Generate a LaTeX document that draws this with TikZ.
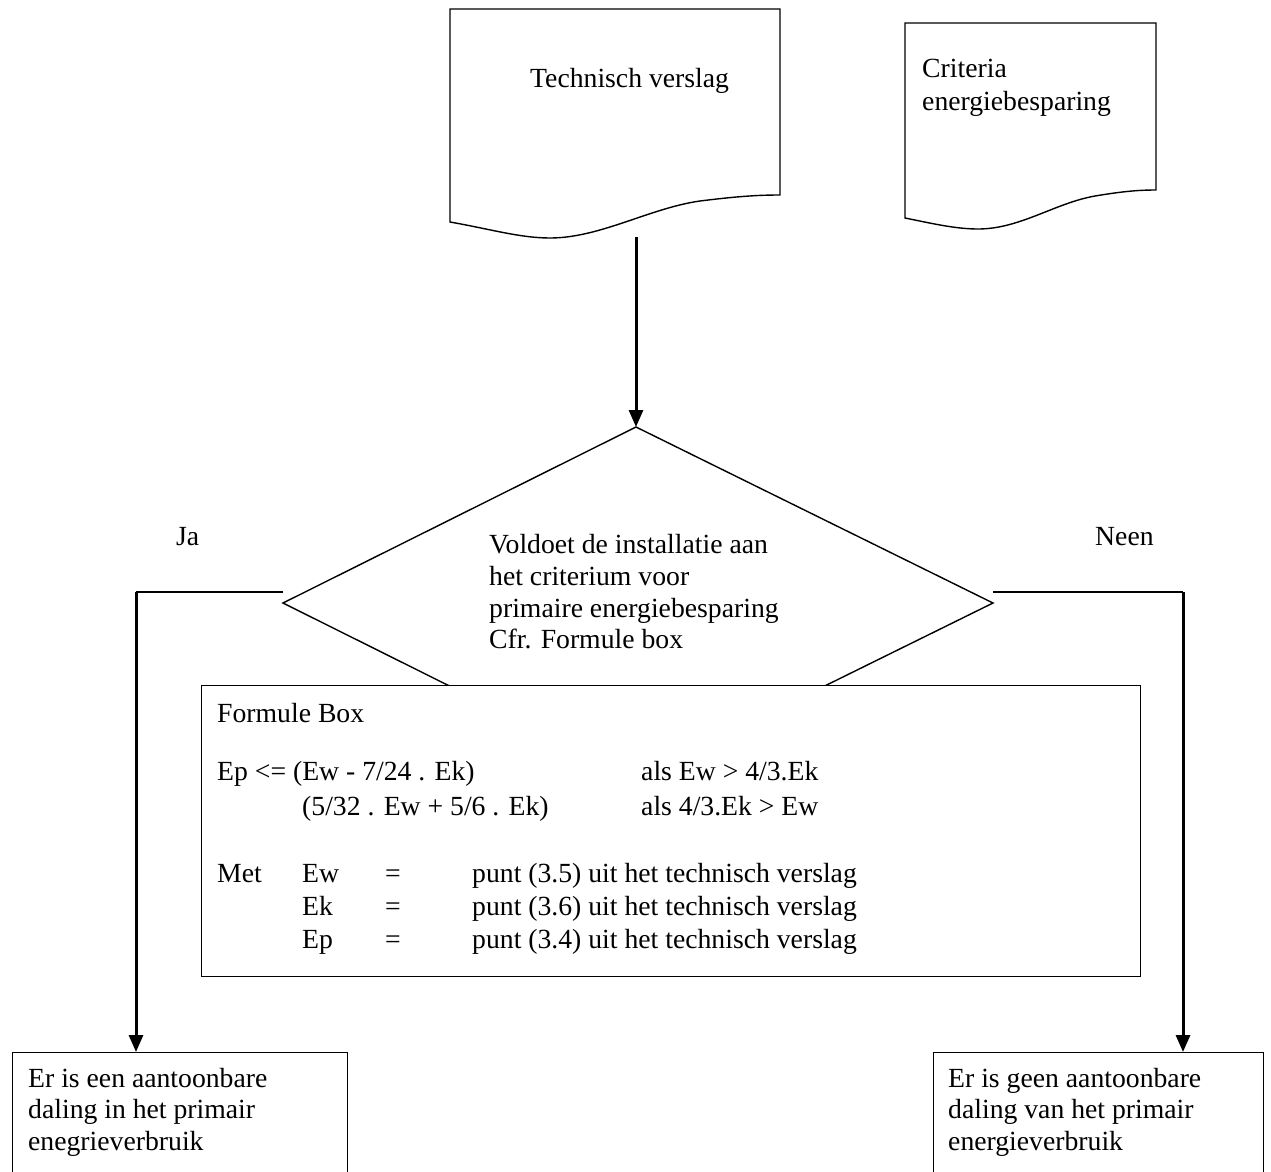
\documentclass[tikz,border=0pt]{standalone}
\usepackage{fontspec}
\setmainfont{Liberation Serif}
\usetikzlibrary{arrows.meta}
\begin{document}
\begin{tikzpicture}[x=1pt,y=-1pt,
  line join=miter,
  outline/.style={draw=black,line width=1.4pt},
  flow/.style={draw=black,line width=3pt,-{Triangle[length=17pt,width=14pt]}},
  txt/.style={anchor=base west,inner sep=0pt,font=\fontsize{27.7}{32}\selectfont},
  resultbox/.style={outline,fill=white,anchor=north west,minimum height=200pt,inner sep=0pt}]
\useasboundingbox (0,0) rectangle (1271,1171);
\clip (0,0) rectangle (1271,1171);

% document: Technisch verslag
\draw[outline] (450,222) -- (450,9) -- (780,9) -- (780,195)
  .. controls (760,195) and (740,196) .. (700,201)
  .. controls (650,208) and (600,238) .. (550,238)
  .. controls (520,238) and (490,229) .. (450,222) -- cycle;
\coordinate (verslag) at (636,237);
\node[txt] (verslagtxt) at (530,87) {Technisch verslag};

% document: Criteria energiebesparing
\draw[outline] (905,218) -- (905,23) -- (1156,23) -- (1156,190)
  .. controls (1140,190) and (1125,191) .. (1095,196)
  .. controls (1055,203) and (1020,229) .. (978,229)
  .. controls (955,229) and (930,223) .. (905,218) -- cycle;
\node[txt] (crit1) at (922,77) {Criteria};
\node[txt] (crit2) at (922,110) {energiebesparing};

% decision diamond
\coordinate (dtop) at (636,427);
\coordinate (dleft) at (283,603);
\coordinate (dright) at (993,603);
\coordinate (dbot) at (636,779);
\draw[outline] (dtop) -- (dleft) -- (dbot) -- (dright) -- cycle;
\node[txt] (q1) at (489,553) {Voldoet de installatie aan};
\node[txt] (q2) at (489,585) {het criterium voor};
\node[txt] (q3) at (489,617) {primaire energiebesparing};
\node[txt] (q4) at (489,648) {Cfr. Formule box};

% formula box
\node[outline,fill=white,anchor=north west,minimum width=939pt,minimum height=291pt,inner sep=0pt] (formula) at (201,685) {};
\node[txt] (f0) at (217,722) {Formule Box};
\node[txt] (f1) at (217,780) {Ep <= (Ew - 7/24 . Ek)};
\node[txt] (f1c) at (641,780) {als Ew > 4/3.Ek};
\node[txt] (f2) at (302,815) {(5/32 . Ew + 5/6 . Ek)};
\node[txt] (f2c) at (641,815) {als 4/3.Ek > Ew};
\node[txt] (met) at (217,882) {Met};
\node[txt] (m1a) at (302,882) {Ew};
\node[txt] (m1b) at (385,882) {=};
\node[txt] (m1c) at (472,882) {punt (3.5) uit het technisch verslag};
\node[txt] (m2a) at (302,915) {Ek};
\node[txt] (m2b) at (385,915) {=};
\node[txt] (m2c) at (472,915) {punt (3.6) uit het technisch verslag};
\node[txt] (m3a) at (302,948) {Ep};
\node[txt] (m3b) at (385,948) {=};
\node[txt] (m3c) at (472,948) {punt (3.4) uit het technisch verslag};

% outcome boxes
\node[resultbox,minimum width=335pt] (ja) at (12,1052) {};
\node[txt] (ja1) at (28,1087) {Er is een aantoonbare};
\node[txt] (ja2) at (28,1118) {daling in het primair};
\node[txt] (ja3) at (28,1150) {enegrieverbruik};
\node[resultbox,minimum width=330pt] (neen) at (933,1052) {};
\node[txt] (neen1) at (948,1087) {Er is geen aantoonbare};
\node[txt] (neen2) at (948,1118) {daling van het primair};
\node[txt] (neen3) at (948,1150) {energieverbruik};

% branch labels
\node[txt] (jalabel) at (176,545) {Ja};
\node[txt] (neenlabel) at (1095,545) {Neen};

% connectors
\draw[flow] (verslag) -- (dtop);
\coordinate (jastart) at (283,592);
\coordinate (jacorner) at (136,592);
\coordinate (neenstart) at (993,592);
\coordinate (neencorner) at (1183,592);
\draw[outline] (jastart) -- (jacorner);
\draw[flow] (jacorner) -- (jacorner |- ja.north);
\draw[outline] (neenstart) -- (neencorner);
\draw[flow] (neencorner) -- (neencorner |- neen.north);
\end{tikzpicture}
\end{document}
